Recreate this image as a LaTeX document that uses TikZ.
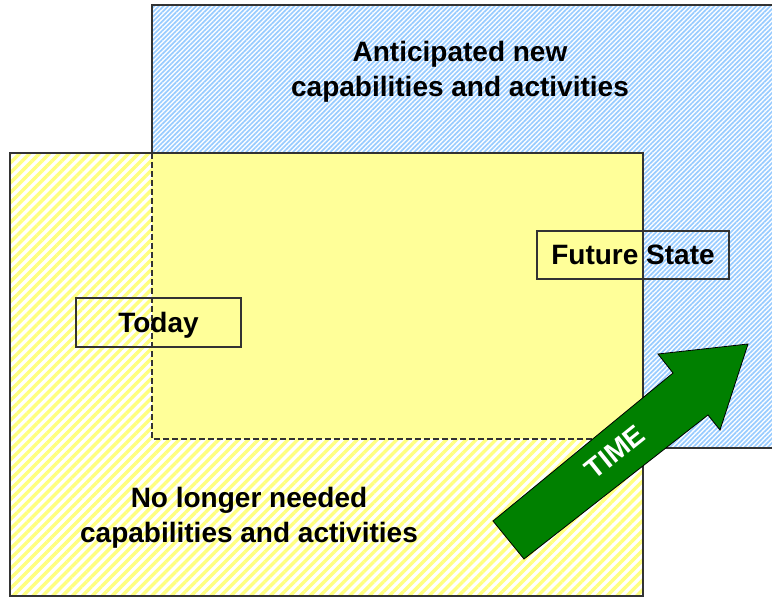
\documentclass[tikz,border=0pt]{standalone}
\usepackage{fontspec}
\setmainfont{Liberation Sans}
\usetikzlibrary{patterns.meta}
\definecolor{hatchblue}{HTML}{99CCFF}
\definecolor{hatchyellow}{HTML}{FFFF80}
\definecolor{solidyellow}{HTML}{FFFF99}
\definecolor{timegreen}{HTML}{008000}
\definecolor{edgegray}{HTML}{333333}
\begin{document}
\begin{tikzpicture}[x=1pt,y=-1pt,
  regionedge/.style={draw=edgegray, line width=1.2pt},
  bluehatch/.style={pattern={Lines[angle=45,distance=3.3pt,line width=1.7pt]}, pattern color=hatchblue},
  yellowhatch/.style={pattern={Lines[angle=45,distance=7pt,line width=3.4pt]}, pattern color=hatchyellow},
  overlapedge/.style={draw=edgegray, line width=1.2pt, dash pattern=on 6pt off 3pt},
  bigtext/.style={font=\bfseries\fontsize{28}{35}\selectfont, align=center, inner sep=0pt},
  statebox/.style={draw=edgegray, line width=1.2pt, font=\bfseries\fontsize{28}{35}\selectfont, inner sep=0pt, text height=20pt, text depth=0pt},
  timearrow/.style={fill=timegreen, draw=black, line width=0.8pt, line join=miter},
  timetext/.style={font=\bfseries\fontsize{28}{32}\selectfont, text=white, inner sep=0pt}]
\useasboundingbox (0,0) rectangle (772,599);
\clip (0,0) rectangle (772,599);
% future (blue) region
\coordinate (bluetl) at (152,5);
\coordinate (bluebr) at (800,448);
\fill[white] (bluetl) rectangle (bluebr);
\fill[bluehatch] (bluetl) rectangle (bluebr);
\draw[regionedge] (bluetl) rectangle (bluebr);
% today (yellow) region
\coordinate (yeltl) at (10,153);
\coordinate (yelbr) at (643,596);
\fill[white] (yeltl) rectangle (yelbr);
\fill[yellowhatch] (yeltl) rectangle (yelbr);
% overlap
\coordinate (ovtl) at (152,153);
\coordinate (ovbl) at (152,439);
\coordinate (ovbr) at (643,439);
\fill[solidyellow] (ovtl) rectangle (ovbr);
\draw[overlapedge] (ovtl) -- (ovbl) -- (ovbr);
\draw[regionedge] (yeltl) rectangle (yelbr);
% labels
\node[bigtext] (anticipated) at (460,72) {Anticipated new\\capabilities and activities};
\node[bigtext] (nolonger) at (249,518) {No longer needed\\capabilities and activities};
\node[statebox, minimum width=165pt, minimum height=49pt] (today) at (158.5,322.5) {Today};
\node[statebox, minimum width=192pt, minimum height=48pt] (future) at (633,255) {Future State};
% time arrow
\coordinate (a1) at (493,521);
\coordinate (a2) at (673,373);
\coordinate (a3) at (658,354);
\coordinate (a4) at (748,344);
\coordinate (a5) at (720,430);
\coordinate (a6) at (708,415);
\coordinate (a7) at (524,559);
\draw[timearrow] (a1) -- (a2) -- (a3) -- (a4) -- (a5) -- (a6) -- (a7) -- cycle;
\node[timetext, rotate=38.7] (time) at (615,452) {TIME};
\end{tikzpicture}
\end{document}
